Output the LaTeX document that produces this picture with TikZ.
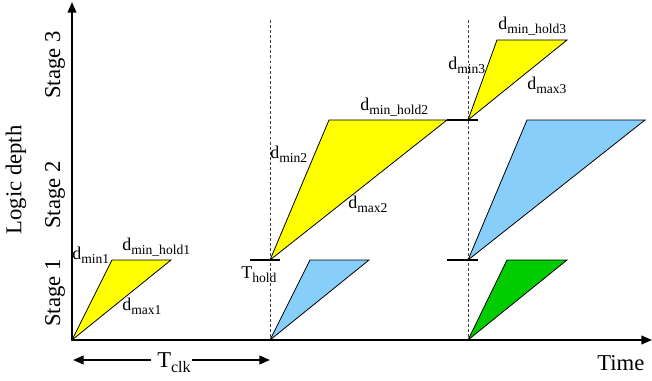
\documentclass[tikz,border=0pt]{standalone}
\usepackage{fontspec}
\setmainfont{Liberation Serif}
\usetikzlibrary{arrows.meta}
\definecolor{yel}{RGB}{255,255,0}
\definecolor{blu}{RGB}{135,206,250}
\definecolor{grn}{RGB}{0,204,0}
\newcommand{\dlab}[2]{{\fontsize{13.5}{15}\selectfont #1}\raisebox{-3pt}{\fontsize{10.2}{11}\selectfont #2}}
\tikzset{
  lab/.style={inner sep=0pt, anchor=base west},
  big/.style={inner sep=0pt, font=\fontsize{17}{20}\selectfont},
  stagelab/.style={big, rotate=90, anchor=center},
  tri/.style={draw=black, line width=0.6pt, line join=miter},
  holdbar/.style={line width=1.5pt},
  clkline/.style={dash pattern=on 2.2pt off 1.6pt, line width=0.7pt, black!75},
  axis/.style={line width=1.5pt, -{Triangle[length=8pt,width=6.5pt]}},
}
\begin{document}
\begin{tikzpicture}[x=0.75pt,y=-0.75pt]
\useasboundingbox (0,0) rectangle (652,381);
% clock lines
\coordinate (c1t) at (270,20); \coordinate (c1b) at (270,340);
\coordinate (c2t) at (468,20); \coordinate (c2b) at (468,340);
\draw[clkline] (c1t) -- (c1b);
\draw[clkline] (c2t) -- (c2b);
% triangles
\fill[yel] (72,340) -- (112,260) -- (171,260) -- cycle;
\draw[tri] (72,340) -- (112,260) -- (171,260) -- cycle;
\fill[yel] (270,260) -- (329,120) -- (447,120) -- cycle;
\draw[tri] (270,260) -- (329,120) -- (447,120) -- cycle;
\fill[yel] (468,120) -- (497,40) -- (567,40) -- cycle;
\draw[tri] (468,120) -- (497,40) -- (567,40) -- cycle;
\fill[blu] (270,340) -- (310,260) -- (369,260) -- cycle;
\draw[tri] (270,340) -- (310,260) -- (369,260) -- cycle;
\fill[blu] (468,260) -- (527,120) -- (645,120) -- cycle;
\draw[tri] (468,260) -- (527,120) -- (645,120) -- cycle;
\fill[grn] (468,340) -- (507,260) -- (567,260) -- cycle;
\draw[tri] (468,340) -- (507,260) -- (567,260) -- cycle;
% hold bars
\coordinate (h1a) at (250,260); \coordinate (h1b) at (280,260);
\coordinate (h2a) at (447,120); \coordinate (h2b) at (478,120);
\coordinate (h3a) at (447,260); \coordinate (h3b) at (478,260);
\draw[holdbar] (h1a) -- (h1b);
\draw[holdbar] (h2a) -- (h2b);
\draw[holdbar] (h3a) -- (h3b);
% axes
\coordinate (o) at (72,340);
\coordinate (ytop) at (72,2);
\coordinate (xend) at (652,340);
\draw[axis] (o) -- (ytop);
\draw[axis] (o) -- (xend);
% labels
\node[lab] (dmin1) at (72,259) {\dlab{d}{min1}};
\node[lab] (dmh1) at (122,250) {\dlab{d}{min\_hold1}};
\node[lab] (dmax1) at (122,310) {\dlab{d}{max1}};
\node[lab] (thold) at (241,278) {\dlab{T}{hold}};
\node[lab] (dmin2) at (270,158) {\dlab{d}{min2}};
\node[lab] (dmh2) at (360,111) {\dlab{d}{min\_hold2}};
\node[lab] (dmax2) at (348,208) {\dlab{d}{max2}};
\node[lab] (dmin3) at (448,70) {\dlab{d}{min3}};
\node[lab] (dmh3) at (498,30) {\dlab{d}{min\_hold3}};
\node[lab] (dmax3) at (527,90) {\dlab{d}{max3}};
\node[big, anchor=base west] (time) at (597,370) {Time};
\node[big, anchor=base west] (tclk) at (157,367) {T\raisebox{-4pt}{\fontsize{12}{14}\selectfont clk}};
\node[stagelab] (s1) at (55,293) {Stage 1};
\node[stagelab] (s2) at (55,195) {Stage 2};
\node[stagelab] (s3) at (55,65) {Stage 3};
\node[stagelab] (ld) at (16,180) {Logic depth};
% Tclk arrow
\coordinate (al) at (73,360);
\coordinate (ar) at (270,360);
\draw[axis] (tclk.west |- al) ++(-6,0) -- (al);
\draw[axis] (tclk.east |- ar) ++(1,0) -- (ar);
\end{tikzpicture}
\end{document}
